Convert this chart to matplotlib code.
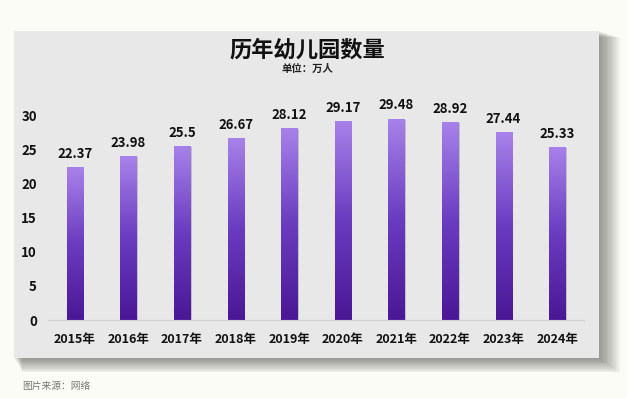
import numpy as np
import matplotlib
matplotlib.use("Agg")
import matplotlib.pyplot as plt
from matplotlib.patches import Rectangle
from matplotlib.colors import LinearSegmentedColormap

plt.rcParams['font.family'] = ['Noto Sans CJK SC', 'DejaVu Sans']

# data
years = ['2015年', '2016年', '2017年', '2018年', '2019年',
         '2020年', '2021年', '2022年', '2023年', '2024年']
counts = [22.37, 23.98, 25.5, 26.67, 28.12, 29.17, 29.48, 28.92, 27.44, 25.33]
yticks = [0, 5, 10, 15, 20, 25, 30]

W, H = 627, 398
fig = plt.figure(figsize=(W / 100, H / 100), dpi=100)
fig.patch.set_facecolor('#fcfcf7')

# panel with soft shadow
px0, px1, py0, py1 = 14, 599, 31, 358
def fx(v):
    return v / W
def fy(v):
    return (H - v) / H

for k in range(16, 0, -1):
    fig.patches.append(Rectangle((fx(px0 + k * 0.5), fy(py1 + k * 0.9)),
                                 fx(px1 - px0 + k * 0.8), (py1 - py0 + k * 0.5) / H,
                                 transform=fig.transFigure, facecolor='#444444',
                                 alpha=0.045, edgecolor='none', zorder=0))
fig.patches.append(Rectangle((fx(px0), fy(py1)), fx(px1 - px0), (py1 - py0) / H,
                             transform=fig.transFigure, facecolor='#e8e8e8',
                             edgecolor='none', zorder=1))

# axes
ax = fig.add_axes([fx(48), fy(320), fx(584 - 48), (320 - 115) / H])
ax.set_facecolor('none')
ax.set_zorder(2)
x = np.arange(len(years))

cmap = LinearSegmentedColormap.from_list('purp', ['#4a1896', '#6a3cc0', '#a882ea'])
grad = np.linspace(0, 1, 256).reshape(-1, 1)
bw = 0.3
for xi, v in zip(x, counts):
    # shadow
    ax.add_patch(Rectangle((xi - bw / 2 + 0.03, 0), bw, v - 0.15,
                           facecolor='#9a9a9a', alpha=0.5, edgecolor='none', zorder=1))
    bar = Rectangle((xi - bw / 2, 0), bw, v, facecolor='none', edgecolor='none', zorder=2)
    ax.add_patch(bar)
    im = ax.imshow(grad, cmap=cmap, extent=(xi - bw / 2, xi + bw / 2, 0, v),
                   origin='lower', aspect='auto', zorder=2)
    im.set_clip_path(bar)
    ax.text(xi, v + 0.9, f'{v:g}', ha='center', va='bottom', fontsize=9.5,
            fontweight='bold', color='#111111')

for s in ['top', 'right', 'left']:
    ax.spines[s].set_visible(False)
ax.spines['bottom'].set_color('#d2d2d2')
ax.spines['bottom'].set_linewidth(0.8)
ax.set_yticks(yticks)
ax.set_yticklabels([str(t) for t in yticks], fontsize=9.5, fontweight='bold', color='#111111')
ax.set_xticks(x)
ax.set_xticklabels(years, fontsize=9, fontweight='bold', color='#111111')
ax.tick_params(axis='both', length=0)
ax.tick_params(axis='y', pad=8)
ax.tick_params(axis='x', pad=9)
ax.set_xlim(-0.5, len(years) - 0.5)
ax.set_ylim(0, 30)

fig.text(fx(307), fy(50), '历年幼儿园数量', ha='center', va='center',
         fontsize=16, fontweight='black', color='#111111')
fig.text(fx(307), fy(69), '单位：万人', ha='center', va='center',
         fontsize=7.5, fontweight='bold', color='#222222')
fig.text(fx(22), fy(386), '图片来源：网络', ha='left', va='center',
         fontsize=7, color='#777777')

fig.savefig('out.png', dpi=100)
